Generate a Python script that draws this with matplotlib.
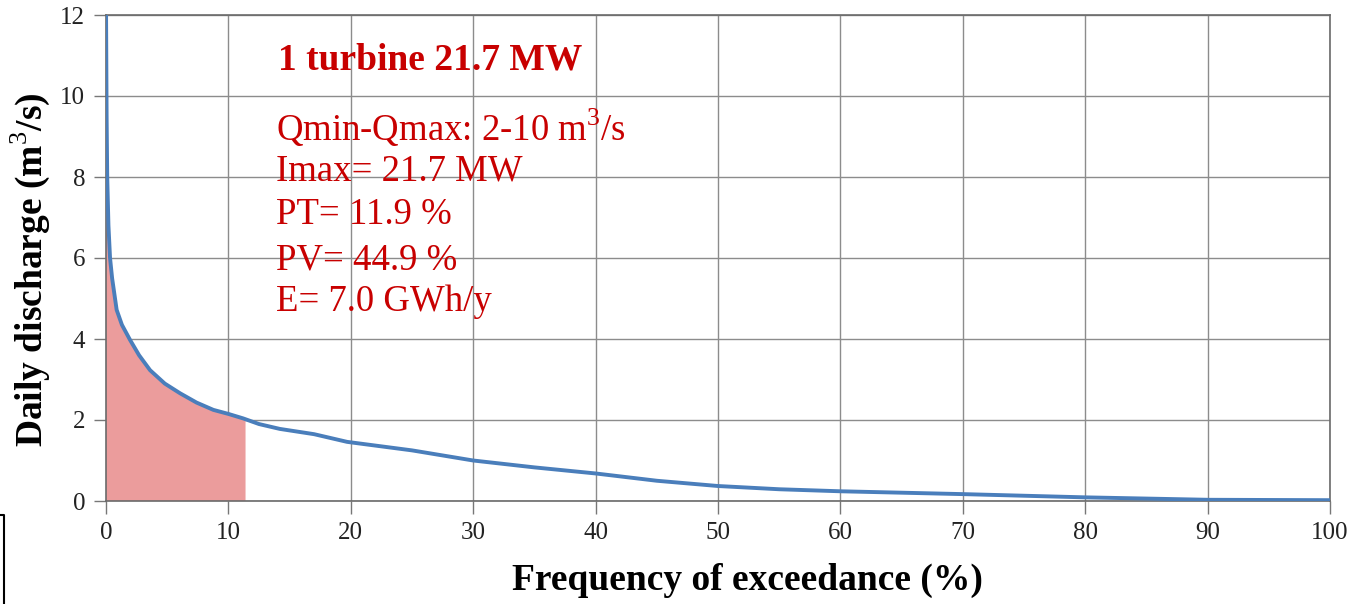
import numpy as np
import matplotlib
matplotlib.use("Agg")
import matplotlib.pyplot as plt
from matplotlib.lines import Line2D

plt.rcParams["mathtext.fontset"] = "custom"
plt.rcParams["mathtext.rm"] = "Liberation Serif"
plt.rcParams["mathtext.bf"] = "Liberation Serif:bold"

freq = [0, 0.05, 0.1, 0.2, 0.33, 0.5, 0.87, 1.3, 1.96, 2.7, 3.6, 4.8, 6.05, 7.4,
        8.77, 10, 11.2, 12.5, 14.2, 17, 19.7, 25, 30, 35, 40, 45, 50, 55, 60, 70,
        80, 90, 100]
discharge = [12.3, 9.5, 8.0, 6.8, 6.0, 5.5, 4.72, 4.35, 3.98, 3.6, 3.23, 2.9, 2.66,
             2.43, 2.25, 2.15, 2.04, 1.9, 1.78, 1.65, 1.46, 1.25, 1.0, 0.83, 0.68,
             0.5, 0.37, 0.29, 0.24, 0.17, 0.09, 0.03, 0.02]
fill_end = 11.4

title_txt = "1 turbine 21.7 MW"
info_lines = ["Qmin-Qmax: 2-10 m$^{3}$/s", "Imax= 21.7 MW", "PT= 11.9 %",
              "PV= 44.9 %", "E= 7.0 GWh/y"]
xticks = list(range(0, 101, 10))
yticks = list(range(0, 13, 2))

fig = plt.figure(figsize=(13.66, 6.04), dpi=100)
ax = fig.add_axes([106/1366, 103/604, (1330-106)/1366, (501-15)/604])

fx = np.array(freq)
fy = np.array(discharge)
m = fx <= fill_end
fill_x = np.append(fx[m], fill_end)
fill_y = np.append(fy[m], np.interp(fill_end, fx, fy))
ax.fill_between(fill_x, 0, fill_y, facecolor="#eb9c9c", edgecolor="none", zorder=2)
ax.plot(freq, discharge, color="#4a7ebb", lw=2.8, zorder=3)

ax.set_xlim(0, 100)
ax.set_ylim(0, 12)
ax.set_xticks(xticks)
ax.set_yticks(yticks)
ax.grid(True, color="#8c8c8c", lw=1.0, zorder=1)
ax.set_axisbelow(True)
for s in ax.spines.values():
    s.set_color("#6a6a6a")
    s.set_linewidth(1.2)
ax.tick_params(axis="both", direction="out", length=9, width=1, color="#777777",
               labelsize=18, labelcolor="#222222", pad=6)
for lab in ax.get_xticklabels() + ax.get_yticklabels():
    lab.set_family("Liberation Serif")

fig.text(747/1366, 1 - 580/604, "Frequency of exceedance (%)", family="Liberation Serif",
         fontweight="bold", fontsize=27, ha="center", va="center")
fig.text(30/1366, 1 - 270/604, "Daily discharge (m$^{3}$/s)", family="Liberation Serif",
         fontweight="bold", fontsize=27, ha="center", va="center", rotation=90)

red = "#c80000"
fig.text(278/1366, 1 - 60/604, title_txt, family="Liberation Serif",
         fontweight="bold", fontsize=27, color=red, va="center", ha="left")
ys = [128, 171, 215, 260, 302]
for t, yp in zip(info_lines, ys):
    fig.text(276/1366, 1 - yp/604, t, family="Liberation Serif", fontsize=26.5,
             color=red, va="center", ha="left")

fig.add_artist(Line2D([0, 4/1366, 4/1366], [1-515/604, 1-515/604, 0],
                      transform=fig.transFigure, color="black", lw=1.5))

fig.savefig("out.png", dpi=100)
